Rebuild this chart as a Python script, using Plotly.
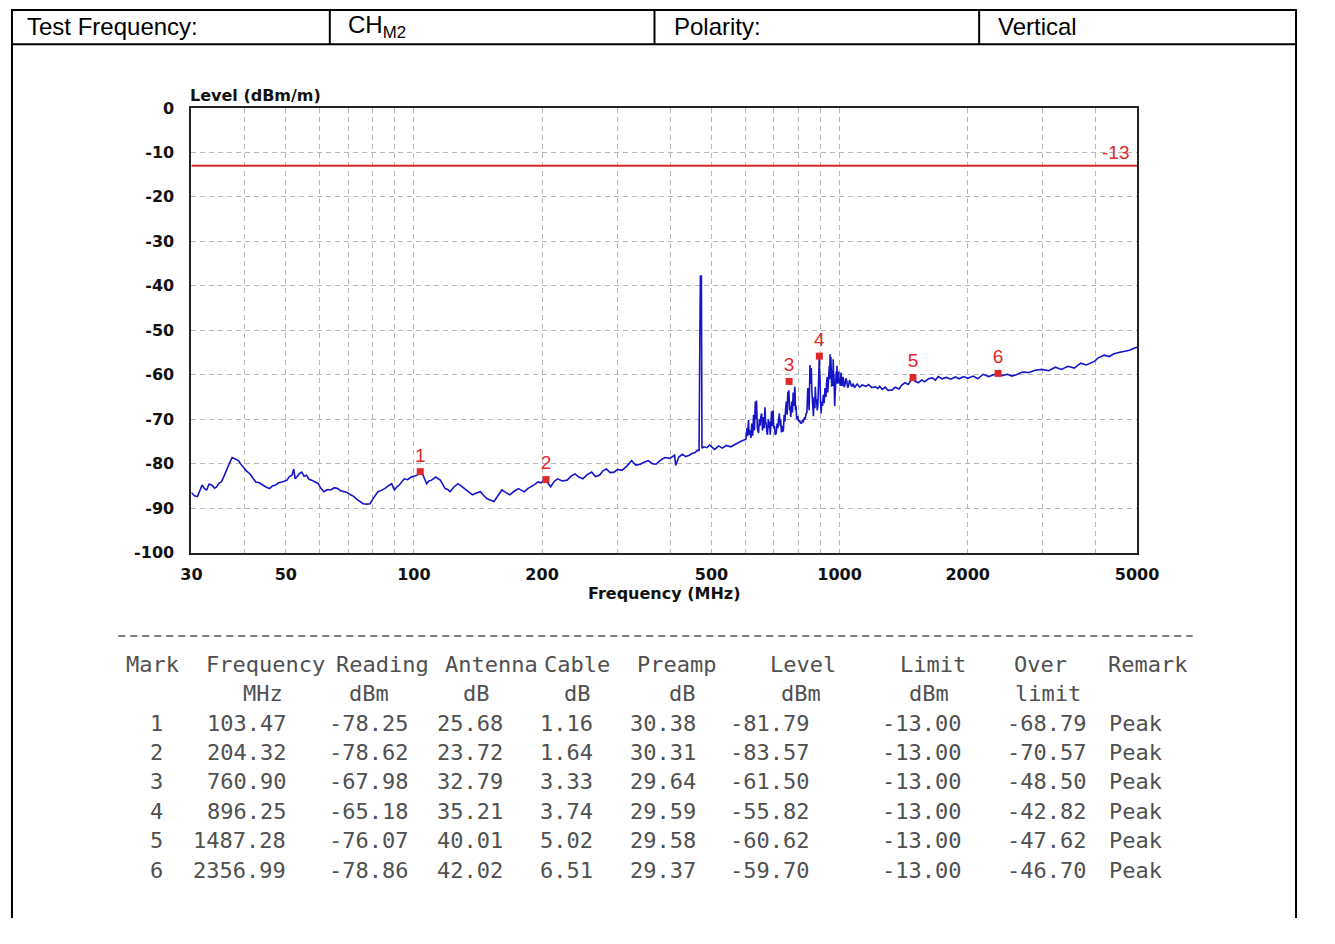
import plotly.graph_objects as go
import math

# ---------------- data ----------------
# spectrum trace, split into frequency bands (MHz, dBm)
band1_freq = [
    30.0, 30.5, 31.0, 31.4, 31.8, 32.2, 32.6, 33.0, 33.5, 34.0, 34.4, 34.9, 35.3, 35.8, 36.3, 36.9,
    37.4, 38.0, 38.7, 39.2, 39.7, 40.4, 41.2, 41.8, 42.5, 43.3, 44.1, 45.0, 45.8, 46.5, 47.3, 48.1,
    49.0, 50.3, 51.0, 51.7, 52.2, 52.6, 53.1, 53.8, 54.5, 55.2, 55.9, 56.7, 57.5, 58.5, 59.6, 60.5,
    61.5, 62.6, 63.8, 65.0, 66.2, 67.3, 68.4, 69.7, 71.0, 72.3, 73.6, 74.8, 76.0, 77.5, 78.9, 80.1,
    81.2, 82.3, 83.8, 85.4, 87.0, 88.6, 90.0, 91.2, 92.4, 93.6, 94.9, 96.7, 98.5, 100.0, 101.6, 103.47,
    104.3, 105.5, 107.1, 108.5, 110.0,
]
band1_level = [
    -86.5, -87.2, -87.4, -86.0, -84.8, -85.6, -85.9, -84.6, -84.8, -85.5, -85.2, -84.3, -84.1, -82.8, -81.2, -79.8,
    -78.6, -78.9, -79.3, -80.1, -80.8, -81.6, -82.3, -83.2, -84.1, -84.3, -84.8, -85.3, -85.6, -85.0, -84.8, -84.3,
    -84.1, -83.7, -82.9, -82.6, -81.2, -83.4, -83.0, -82.2, -81.9, -82.8, -82.6, -83.5, -83.7, -84.0, -84.5, -85.6,
    -86.3, -85.8, -85.9, -85.4, -85.6, -86.1, -86.3, -86.5, -87.0, -87.4, -88.1, -88.6, -89.0, -89.1, -89.0, -87.9,
    -87.2, -86.3, -86.0, -85.6, -85.0, -84.5, -85.9, -85.2, -84.8, -84.2, -83.4, -83.6, -83.0, -82.8, -82.6, -81.79,
    -81.9, -83.0, -84.5, -83.9, -83.7,
]
band2_freq = [
    112.5, 115.3, 116.8, 118.4, 120.0, 121.6, 124.0, 126.8, 129.0, 131.6, 134.5, 137.3, 140.2, 143.3,
    146.0, 148.6, 151.5, 154.2, 157.5, 160.9, 164.5, 167.9, 172.0, 176.0, 179.0, 181.7, 185.0, 188.5,
    192.0, 195.6, 199.0, 201.9, 204.32, 207.0, 209.5, 213.5, 217.4, 223.0, 229.1, 234.0, 239.0, 244.0,
    249.4, 255.0, 261.5, 267.0, 272.8, 278.0, 283.1, 289.0, 295.3, 301.0, 308.0, 316.0, 324.7, 332.0,
    340.5, 348.0, 355.2, 363.0, 370.6, 380.0, 388.7, 399.0, 409.6, 411.9, 419.0, 427.3, 435.0, 443.5,
    450.0, 457.9, 463.0,
]
band2_level = [
    -83.0, -83.7, -84.6, -85.6, -85.8, -86.3, -85.3, -84.5, -85.0, -85.6, -86.2, -87.0, -86.6, -86.3,
    -87.2, -87.9, -88.2, -88.5, -87.2, -85.9, -86.5, -87.0, -86.2, -85.6, -86.0, -86.3, -85.6, -85.2,
    -84.7, -84.1, -84.3, -83.7, -83.57, -84.5, -85.2, -84.0, -83.4, -83.9, -83.7, -82.8, -82.3, -83.0,
    -83.4, -82.5, -81.9, -82.9, -82.6, -81.6, -81.2, -82.0, -81.9, -81.3, -81.5, -80.6, -79.3, -80.3,
    -80.1, -79.6, -79.3, -80.0, -80.1, -79.2, -78.6, -78.8, -78.1, -80.4, -78.5, -77.9, -78.4, -78.1,
    -77.7, -77.5, -77.0,
]
spike_freq = [467.5, 468.5, 470.0, 471.0, 473.5, 475.0]
spike_level = [-77.0, -48.0, -47.5, -37.8, -37.8, -76.5]
band3_freq = [
    480.0, 487.8, 495.0, 508.9, 520.0, 530.0, 542.0, 555.0, 571.6, 585.0, 602.5, 606.0, 608.0, 611.0,
    613.0, 616.0, 619.0, 622.0, 625.0, 628.0, 631.0, 634.0, 636.0, 638.0, 641.0, 645.0, 648.0, 650.0,
    653.0, 656.0, 659.0, 662.0, 665.0, 668.0, 670.0, 672.0, 675.0, 677.0, 680.0, 682.0, 685.0, 687.0,
    690.0, 692.0, 695.0, 698.0, 700.0, 703.0, 706.0, 710.0, 713.0, 716.0, 719.0, 722.0, 725.0, 727.0,
    730.0, 732.0, 735.0, 738.0, 741.0, 744.0, 747.0, 750.0, 753.0, 756.0, 758.0, 760.0, 763.0, 765.0,
    768.0, 772.0, 775.0, 778.0, 781.0, 785.0, 788.0, 790.0, 793.0, 797.0, 801.0, 805.0, 809.0, 814.0,
    818.0, 822.0, 826.0, 830.0, 834.0, 838.0, 842.0, 845.0, 848.0, 852.0, 855.0, 858.0, 861.0, 863.0,
    866.0, 868.0, 870.0, 872.0, 875.0, 877.0, 880.0, 883.0, 886.0, 889.0, 891.0, 893.0, 895.0, 896.25,
    898.0, 899.0, 902.0, 905.0, 908.0, 912.0, 916.0, 920.0, 924.0, 929.0, 932.0, 935.0, 938.0, 940.0,
    943.0, 946.0, 948.0, 950.0, 952.0, 954.0, 956.0, 958.0, 960.0, 962.0, 964.0, 966.0, 968.0, 970.0,
    972.0, 974.0, 976.0, 978.0, 980.0, 982.0, 984.0, 986.0, 988.0, 990.0, 993.0, 995.0, 998.0,
]
band3_level = [
    -76.2, -76.4, -75.8, -76.8, -76.0, -76.5, -75.9, -76.2, -75.5, -75.0, -74.5, -72.0, -73.8, -70.2,
    -73.5, -72.5, -74.2, -71.0, -73.7, -69.0, -72.5, -66.0, -70.0, -65.8, -72.0, -73.1, -70.0, -71.5,
    -69.5, -68.7, -72.5, -69.5, -72.0, -67.3, -70.5, -71.0, -73.0, -73.5, -70.0, -72.0, -70.5, -73.5,
    -71.0, -68.2, -71.5, -68.0, -72.0, -71.5, -73.5, -73.1, -71.0, -72.0, -70.0, -68.7, -71.5, -70.0,
    -73.0, -71.5, -72.8, -72.4, -69.0, -70.5, -67.5, -66.0, -69.0, -63.8, -66.5, -63.5, -68.0, -67.1,
    -69.5, -66.0, -68.5, -64.0, -67.0, -62.7, -68.0, -67.0, -70.0, -69.3, -70.5, -70.2, -70.8, -70.9,
    -70.3, -70.5, -69.8, -70.0, -68.8, -68.5, -63.0, -64.0, -68.0, -57.8, -62.0, -58.5, -64.0, -66.0,
    -68.5, -69.3, -66.0, -65.0, -67.5, -62.7, -66.0, -65.5, -68.0, -67.0, -64.0, -62.0, -58.0, -55.8,
    -62.0, -60.0, -66.0, -68.7, -66.0, -67.0, -64.5, -66.4, -63.0, -65.0, -62.0, -60.5, -64.0, -62.0,
    -60.0, -58.0, -61.0, -55.4, -60.5, -56.0, -61.0, -62.7, -60.0, -59.0, -62.5, -56.5, -60.0, -60.0,
    -64.0, -67.1, -64.5, -63.0, -60.5, -59.2, -61.0, -58.0, -62.0, -61.5, -60.0, -59.3, -62.0,
]
band4_freq = [
    1000.0, 1003.0, 1005.0, 1008.0, 1010.0, 1013.0, 1015.0, 1018.0, 1021.0, 1025.0, 1030.0, 1035.0,
    1040.0, 1045.0, 1050.0, 1055.0, 1060.0, 1068.0, 1077.0, 1083.0, 1090.0, 1100.0, 1115.0, 1130.0,
    1153.0, 1170.0, 1190.0, 1216.0, 1230.0, 1242.0, 1260.0, 1280.0, 1300.0, 1331.0, 1350.0, 1380.0,
    1400.0, 1425.0, 1450.0, 1470.0, 1487.28, 1502.0, 1530.0, 1560.0, 1584.0, 1617.0, 1650.0, 1680.0,
    1705.0, 1740.0, 1780.0, 1826.0, 1870.0, 1910.0, 1956.0, 2000.0, 2062.0, 2110.0, 2174.0, 2240.0,
    2300.0, 2356.99, 2410.0, 2480.0, 2540.0, 2602.0, 2690.0, 2786.0, 2880.0, 2984.0, 3100.0, 3213.0,
    3320.0, 3441.0, 3560.0, 3685.0, 3800.0, 3969.0, 4050.0, 4185.0, 4300.0, 4413.0, 4530.0, 4651.0,
    4800.0, 4930.0, 5000.0,
]
band4_level = [
    -61.0, -62.5, -61.8, -59.5, -60.5, -62.5, -62.3, -60.5, -61.0, -62.8, -62.2, -60.8,
    -61.5, -62.9, -62.5, -61.2, -61.8, -62.7, -62.0, -62.9, -62.6, -62.1, -62.8, -62.3,
    -62.6, -62.2, -62.9, -62.7, -63.1, -62.6, -63.3, -62.8, -63.5, -63.4, -62.8, -63.2,
    -62.3, -61.8, -62.2, -61.3, -61.0, -61.4, -61.8, -61.2, -61.6, -60.9, -60.7, -61.2,
    -60.4, -60.9, -60.6, -61.0, -60.5, -60.9, -60.4, -60.8, -60.3, -60.9, -59.9, -60.4,
    -60.0, -59.8, -60.2, -59.9, -60.3, -60.0, -59.4, -59.5, -59.0, -58.8, -59.1, -58.3,
    -58.8, -58.1, -58.5, -57.4, -57.8, -57.0, -56.2, -55.6, -55.9, -55.3, -55.0, -54.7,
    -54.5, -54.0, -53.8,
]

limit_dbm = -13
limit_label = "-13"

marks = ["1", "2", "3", "4", "5", "6"]
mark_freq = [103.47, 204.32, 760.90, 896.25, 1487.28, 2356.99]
mark_reading = [-78.25, -78.62, -67.98, -65.18, -76.07, -78.86]
mark_antenna = [25.68, 23.72, 32.79, 35.21, 40.01, 42.02]
mark_cable = [1.16, 1.64, 3.33, 3.74, 5.02, 6.51]
mark_preamp = [30.38, 30.31, 29.64, 29.59, 29.58, 29.37]
mark_level = [-81.79, -83.57, -61.50, -55.82, -60.62, -59.70]
mark_limit = [-13.00, -13.00, -13.00, -13.00, -13.00, -13.00]
mark_over = [-68.79, -70.57, -48.50, -42.82, -47.62, -46.70]
mark_remark = ["Peak", "Peak", "Peak", "Peak", "Peak", "Peak"]

x_labeled = [30, 50, 100, 200, 500, 1000, 2000, 5000]
x_minor_grid = [40, 60, 70, 80, 90, 300, 400, 600, 700, 800, 900, 3000, 4000]
y_ticks = [0, -10, -20, -30, -40, -50, -60, -70, -80, -90, -100]

header_cells = ["Test Frequency:", "CH<sub>M2</sub>", "Polarity:", "Vertical"]
table_head1 = ["Mark", "Frequency", "Reading", "Antenna", "Cable", "Preamp", "Level", "Limit", "Over", "Remark"]
table_head2 = ["", "MHz", "dBm", "dB", "dB", "dB", "dBm", "dBm", "limit", ""]

trace_freq = band1_freq + band2_freq + spike_freq + band3_freq + band4_freq
trace_level = band1_level + band2_level + spike_level + band3_level + band4_level
assert len(trace_freq) == len(trace_level)

# ---------------- layout helpers ----------------
# the page body keeps its default 8px margin, so the figure is sized to fit the window exactly
OFF = 8
PAGE_W, PAGE_H = 1335, 944
W, H = PAGE_W - 2 * OFF, PAGE_H - 2 * OFF

def px(x):
    return min(max((x - OFF) / W, 0.0), 1.0)

def py(y):
    return min(max(1 - (y - OFF) / H, 0.0), 1.0)

PL, PR, PT, PB = 193, 1163, 109, 563

fig = go.Figure()

fig.add_trace(go.Scatter(
    x=trace_freq, y=trace_level, mode="lines",
    line=dict(color="#1414c8", width=1.6), showlegend=False, hoverinfo="skip"))

fig.add_trace(go.Scatter(
    x=[30, 5000], y=[limit_dbm, limit_dbm], mode="lines",
    line=dict(color="#e0282a", width=2), showlegend=False, hoverinfo="skip"))

fig.add_trace(go.Scatter(
    x=mark_freq, y=mark_level, mode="markers+text", text=marks,
    textposition="top center",
    textfont=dict(family="Liberation Sans, Arial, sans-serif", size=19, color="#e0282a"),
    marker=dict(symbol="square", size=7, color="#e0282a"),
    showlegend=False, hoverinfo="skip"))

tick_font = dict(family="DejaVu Sans, sans-serif", size=16, color="#111")
grid_common = dict(gridcolor="#b8b8b8", griddash="5px,4px", gridwidth=1)

fig.update_layout(
    width=W, height=H,
    margin=dict(l=0, r=0, t=0, b=0),
    paper_bgcolor="white", plot_bgcolor="white",
    font=dict(family="DejaVu Sans, sans-serif"),
    xaxis=dict(
        type="log",
        domain=[px(PL), px(PR)],
        range=[math.log10(30), math.log10(5000)],
        tickmode="array",
        tickvals=x_labeled,
        ticktext=["<b>%d</b>" % v for v in x_labeled],
        tickfont=tick_font,
        ticks="", ticklabelstandoff=6,
        showgrid=True, **grid_common,
        minor=dict(tickmode="array", tickvals=x_minor_grid, showgrid=True, ticks="", **grid_common),
        showline=True, mirror=True, linecolor="#222", linewidth=2,
        zeroline=False,
    ),
    yaxis=dict(
        domain=[py(PB), py(PT)],
        range=[-100, 0],
        tickmode="array",
        tickvals=y_ticks,
        ticktext=["<b>%d</b>" % v for v in y_ticks],
        tickfont=tick_font,
        ticks="", ticklabelstandoff=12,
        showgrid=True, **grid_common,
        showline=True, mirror=True, linecolor="#222", linewidth=2,
        zeroline=False,
    ),
)

annotations = []
shapes = []

# axis titles
annotations.append(dict(x=px(190), y=py(96), xref="paper", yref="paper", xanchor="left", yanchor="middle",
                        text="<b>Level (dBm/m)</b>", showarrow=False,
                        font=dict(family="DejaVu Sans, sans-serif", size=16, color="#111")))
annotations.append(dict(x=px(678), y=py(605), xref="paper", yref="paper", xanchor="center", yanchor="middle",
                        text="<b>Frequency (MHz)</b>", showarrow=False,
                        font=dict(family="DejaVu Sans, sans-serif", size=16, color="#111")))
annotations.append(dict(x=px(1141), y=py(155), xref="paper", yref="paper", xanchor="center", yanchor="middle",
                        text=limit_label, showarrow=False,
                        font=dict(family="Liberation Sans, Arial, sans-serif", size=19, color="#e0282a")))

# header row
hdr_font = dict(family="Liberation Sans, Arial, sans-serif", size=24, color="#000")
hdr_x = [22, 352, 686, 1018]
for txt, hx in zip(header_cells, hdr_x):
    annotations.append(dict(x=px(hx), y=py(26), xref="paper", yref="paper", xanchor="left", yanchor="middle",
                            text=txt, showarrow=False, font=hdr_font))
line_col = "#000"
top_y = OFF + 1
shapes.append(dict(type="line", xref="paper", yref="paper", x0=0, x1=1, y0=py(top_y), y1=py(top_y),
                   line=dict(color=line_col, width=2)))
shapes.append(dict(type="line", xref="paper", yref="paper", x0=0, x1=1, y0=py(44), y1=py(44),
                   line=dict(color=line_col, width=2)))
for vx in [335, 668, 1001]:
    shapes.append(dict(type="line", xref="paper", yref="paper", x0=px(vx), x1=px(vx), y0=py(top_y), y1=py(44),
                       line=dict(color=line_col, width=2)))
for vx in [OFF + 1, PAGE_W - OFF - 1]:
    shapes.append(dict(type="line", xref="paper", yref="paper", x0=px(vx), x1=px(vx), y0=py(top_y), y1=0,
                       line=dict(color=line_col, width=2)))

# dashed separator
shapes.append(dict(type="line", xref="paper", yref="paper", x0=px(118), x1=px(1220), y0=py(648), y1=py(648),
                   line=dict(color="#555", width=1.5, dash="7px,5px")))

# table
tfont = dict(family="DejaVu Sans Mono, Liberation Mono, monospace", size=22, color="#505050")
head1_x = [124, 206, 339, 451, 553, 648, 784, 918, 1035, 1131]
for txt, hx in zip(table_head1, head1_x):
    annotations.append(dict(x=px(hx), y=py(677), xref="paper", yref="paper", xanchor="left", yanchor="middle",
                            text=txt, showarrow=False, font=tfont))
head2_cx = [None, 266, 375, 485, 589, 697, 818, 950, 1072, None]
for txt, hx in zip(table_head2, head2_cx):
    if txt:
        annotations.append(dict(x=px(hx), y=py(707), xref="paper", yref="paper", xanchor="center",
                                yanchor="middle", text=txt, showarrow=False, font=tfont))

cols = [
    (marks, 157, "center", "{}"),
    (mark_freq, 292, "right", "{:.2f}"),
    (mark_reading, 417, "right", "{:.2f}"),
    (mark_antenna, 515, "right", "{:.2f}"),
    (mark_cable, 607, "right", "{:.2f}"),
    (mark_preamp, 713, "right", "{:.2f}"),
    (mark_level, 743, "left", "{:.2f}"),
    (mark_limit, 984, "right", "{:.2f}"),
    (mark_over, 1113, "right", "{:.2f}"),
    (mark_remark, 1132, "left", "{}"),
]
for vals, cx, anchor, fmt in cols:
    for i, v in enumerate(vals):
        annotations.append(dict(x=px(cx), y=py(737 + 30 * i), xref="paper", yref="paper", xanchor=anchor,
                                yanchor="middle", text=fmt.format(v), showarrow=False, font=tfont))

fig.update_layout(annotations=annotations, shapes=shapes)

fig.write_html("out.html")
